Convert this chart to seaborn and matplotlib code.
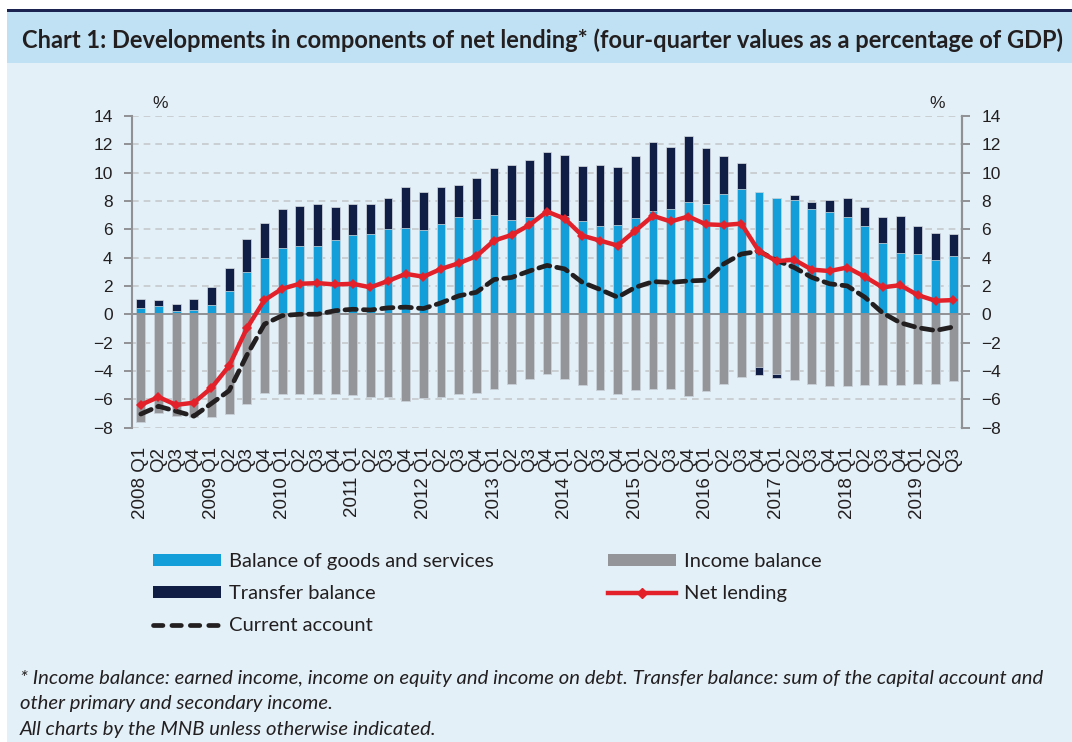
import numpy as np
import pandas as pd
import matplotlib
matplotlib.use("Agg")
import matplotlib.pyplot as plt
from matplotlib.patches import Rectangle, Patch
from matplotlib.lines import Line2D
import seaborn as sns

# Quarters 2008 Q1 - 2019 Q3
years = list(range(2008, 2020))
quarters = ["Q1", "Q2", "Q3", "Q4"]
periods = [f"{y} {q}" for y in years for q in quarters][:47]
tick_labels = [p if p.endswith("Q1") else p.split()[1] for p in periods]

# four-quarter values, % of GDP
goods_services = [0.47, 0.55, 0.2, 0.3, 0.65, 1.65, 3.0, 4.0,
                  4.7, 4.85, 4.85, 5.25, 5.6, 5.7, 6.05, 6.1,
                  5.95, 6.4, 6.9, 6.75, 7.0, 6.65, 6.85, 7.0,
                  6.95, 6.55, 6.25, 6.3, 6.8, 7.3, 7.45, 7.95,
                  7.75, 8.5, 8.85, 8.65, 8.2, 8.1, 7.45, 7.25,
                  6.9, 6.2, 5.0, 4.35, 4.25, 3.85, 4.1]
transfer = [0.63, 0.45, 0.5, 0.8, 1.25, 1.65, 2.3, 2.45,
            2.7, 2.8, 2.9, 2.35, 2.2, 2.05, 2.15, 2.9,
            2.65, 2.6, 2.25, 2.85, 3.35, 3.9, 4.05, 4.45,
            4.3, 3.9, 4.3, 4.1, 4.35, 4.85, 4.35, 4.65,
            4.0, 2.7, 1.85, -0.55, -0.28, 0.3, 0.5, 0.85,
            1.3, 1.4, 1.85, 2.6, 1.95, 1.9, 1.6]
income = [-7.6, -7.0, -7.2, -7.25, -7.25, -7.05, -6.35, -5.55,
          -5.6, -5.6, -5.65, -5.6, -5.7, -5.85, -5.85, -6.15,
          -5.95, -5.85, -5.6, -5.55, -5.25, -4.9, -4.6, -4.25,
          -4.6, -5.0, -5.35, -5.6, -5.35, -5.25, -5.3, -5.75,
          -5.45, -4.95, -4.4, -3.75, -4.2, -4.65, -4.9, -5.1,
          -5.05, -5.0, -5.0, -5.0, -4.95, -4.9, -4.75]
net_lending = [-6.4, -5.85, -6.4, -6.25, -5.2, -3.65, -1.0, 1.0,
               1.8, 2.15, 2.2, 2.1, 2.15, 1.9, 2.35, 2.85,
               2.65, 3.2, 3.6, 4.1, 5.2, 5.6, 6.3, 7.25,
               6.75, 5.55, 5.2, 4.85, 5.9, 6.95, 6.55, 6.9,
               6.35, 6.3, 6.4, 4.45, 3.75, 3.85, 3.15, 3.05,
               3.3, 2.65, 1.9, 2.05, 1.35, 0.95, 1.0]
current_account = [-7.05, -6.5, -6.85, -7.2, -6.3, -5.4, -2.9, -0.7,
                   -0.1, 0.0, 0.0, 0.25, 0.35, 0.3, 0.45, 0.5,
                   0.4, 0.8, 1.3, 1.55, 2.45, 2.6, 3.05, 3.45,
                   3.2, 2.25, 1.75, 1.2, 1.9, 2.3, 2.25, 2.35,
                   2.4, 3.55, 4.25, 4.45, 3.8, 3.3, 2.6, 2.15,
                   2.0, 1.2, 0.1, -0.6, -0.95, -1.15, -0.9]

df = pd.DataFrame({"period": periods, "goods": goods_services, "transfer": transfer,
                   "income": income, "net": net_lending, "ca": current_account})
df["pos_top"] = df["goods"] + df["transfer"].clip(lower=0)
df["neg_bottom"] = df["income"] + df["transfer"].clip(upper=0)
df["pos"] = np.arange(len(df))

BLUE = "#139ed9"
NAVY = "#101e45"
GRAY = "#939598"
RED = "#e2212a"
BLACK = "#231f20"
BG = "#e3f0f7"
BAND = "#bfe1f3"
TXT = "#231f20"

fig = plt.figure(figsize=(10.72, 7.42), dpi=100, facecolor="white")
H = 742.0
fig.patches.append(Rectangle((7 / 1072, 0), 1, (H - 63) / H, transform=fig.transFigure,
                             facecolor=BG, edgecolor="none", zorder=-10))
fig.patches.append(Rectangle((7 / 1072, (H - 63) / H), 1, 51 / H, transform=fig.transFigure,
                             facecolor=BAND, edgecolor="none", zorder=-10))
fig.patches.append(Rectangle((7 / 1072, (H - 12) / H), 1, 3 / H, transform=fig.transFigure,
                             facecolor="#1b2350", edgecolor="none", zorder=-9))

ax = fig.add_axes([132 / 1072, 1 - 427.5 / H, 830 / 1072, 311.5 / H])
ax.patch.set_visible(False)

bar_kw = dict(x="period", width=0.5, saturation=1, ax=ax, edgecolor="#d5dde3", linewidth=0.5)
sns.barplot(data=df, y="pos_top", color=NAVY, **bar_kw)
sns.barplot(data=df, y="goods", color=BLUE, **bar_kw)
sns.barplot(data=df, y="neg_bottom", color=NAVY, **bar_kw)
sns.barplot(data=df, y="income", color=GRAY, **bar_kw)

ax.axhline(0, color="#8f9194", lw=1.4, zorder=3)

sns.lineplot(data=df, x="pos", y="ca", ax=ax, color=BLACK, lw=3.4,
             linestyle=(0, (2.4, 1.5)), dash_capstyle="round", zorder=4)
sns.lineplot(data=df, x="pos", y="net", ax=ax, color=RED, lw=3.2,
             marker="D", markersize=5.5, markeredgewidth=0, zorder=5)

ax.set_xlim(-0.5, len(df) - 0.5)
ax.set_ylim(-8, 14)
ax.set_yticks(range(-8, 15, 2))
ax.yaxis.grid(True, linestyle=(0, (4, 3)), color="#c6c9cc", lw=1.2)
ax.set_axisbelow(True)
ax.set_xlabel("")
ax.set_ylabel("")
ax.set_xticks(range(len(df)))
ax.set_xticklabels(tick_labels, rotation=90, fontsize=13.5, color=TXT,
                   family="Liberation Sans", ha="center", va="top")
ax.tick_params(axis="x", length=0, pad=14)
ax.tick_params(axis="y", length=6, width=1.4, color="#8f9194", labelsize=12.5,
               labelcolor=TXT, pad=8)
for s in ["top", "bottom"]:
    ax.spines[s].set_visible(False)
for s in ["left", "right"]:
    ax.spines[s].set_color("#8f9194")
    ax.spines[s].set_linewidth(1.5)

ax2 = ax.twinx()
ax2.set_ylim(-8, 14)
ax2.set_yticks(range(-8, 15, 2))
ax2.tick_params(axis="y", length=6, width=1.4, color="#8f9194", labelsize=12.5,
                labelcolor=TXT, pad=8)
for s in ["top", "bottom", "left"]:
    ax2.spines[s].set_visible(False)
ax2.spines["right"].set_color("#8f9194")
ax2.spines["right"].set_linewidth(1.5)
for lab in ax.get_yticklabels() + ax2.get_yticklabels():
    lab.set_family("Liberation Sans")

fig.text(160 / 1072, 1 - 104 / H, "%", fontsize=12.5, color=TXT, ha="center", va="center",
         family="Liberation Sans")
fig.text(937 / 1072, 1 - 104 / H, "%", fontsize=12.5, color=TXT, ha="center", va="center",
         family="Liberation Sans")

fig.text(22 / 1072, 1 - 40 / H,
         "Chart 1: Developments in components of net lending* (four-quarter values as a percentage of GDP)",
         fontsize=17, fontweight="bold", color=TXT, ha="left", va="center", family="Lato")

leg_kw = dict(frameon=False, handlelength=3.4, handleheight=0.55,
              handletextpad=0.35, labelspacing=0.75, borderpad=0, borderaxespad=0,
              prop={"family": "Lato", "size": 14.5}, labelcolor=TXT, loc="upper left")
h_left = [Patch(facecolor=BLUE), Patch(facecolor=NAVY),
          Line2D([], [], color=BLACK, lw=3.4, linestyle=(0, (2.0, 1.9)), dash_capstyle="round")]
h_right = [Patch(facecolor=GRAY),
           Line2D([], [], color=RED, lw=3.2, marker="D", markersize=5.5, markevery=[1])]
fig.legend(h_left, ["Balance of goods and services", "Transfer balance", "Current account"],
           bbox_to_anchor=(153 / 1072, 1 - 553 / H), **leg_kw)
fig.legend(h_right, ["Income balance", "Net lending"],
           bbox_to_anchor=(608 / 1072, 1 - 553 / H), **leg_kw)

foot = ("* Income balance: earned income, income on equity and income on debt. Transfer balance: sum of the capital account and\n"
        "other primary and secondary income.\n"
        "All charts by the MNB unless otherwise indicated.")
fig.text(20 / 1072, 1 - 670 / H, foot, fontsize=14.6, style="italic", color=TXT,
         ha="left", va="top", family="Lato", linespacing=1.6)

fig.savefig("out.png", dpi=100, facecolor=fig.get_facecolor())
